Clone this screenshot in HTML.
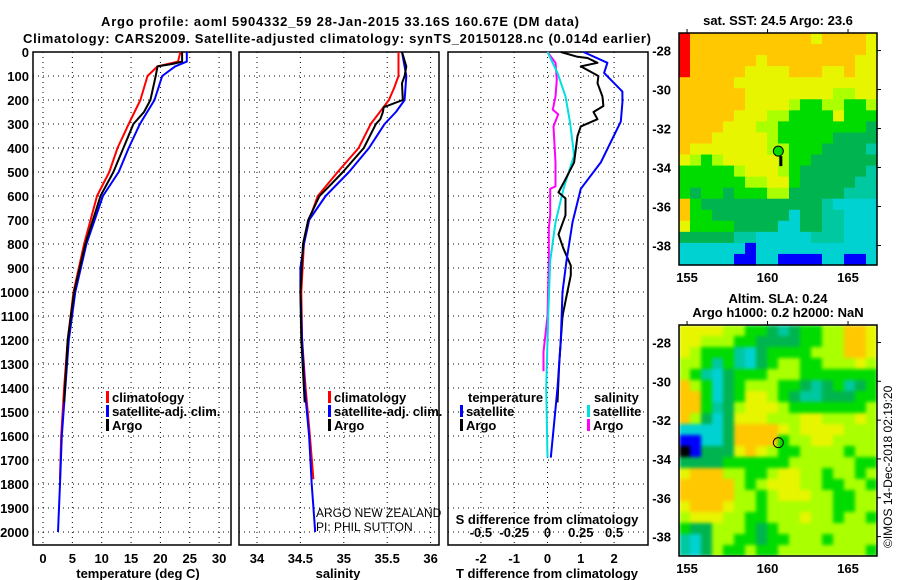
<!DOCTYPE html>
<html><head><meta charset="utf-8"><title>Argo profile</title>
<style>
html,body{margin:0;padding:0;background:#fff;width:900px;height:580px;overflow:hidden}
svg{display:block;font-family:"Liberation Sans",sans-serif}
.b{font-weight:bold;font-size:13px;fill:#000}
.g{stroke:#000;stroke-width:1;stroke-dasharray:1 4}
</style></head><body>
<svg id="s" width="900" height="580" viewBox="0 0 900 580" xmlns="http://www.w3.org/2000/svg">
<defs>
<filter id="soft" x="-5%" y="-5%" width="110%" height="110%" color-interpolation-filters="sRGB"><feGaussianBlur stdDeviation="1.8"/></filter>
<clipPath id="clipSla"><rect x="679" y="325" width="198" height="231"/></clipPath>
</defs>
<text class="b" x="340" y="26" text-anchor="middle" textLength="478">Argo profile: aoml 5904332_59 28-Jan-2015 33.16S 160.67E (DM data)</text>
<text class="b" x="337" y="43" text-anchor="middle" textLength="628">Climatology: CARS2009. Satellite-adjusted climatology: synTS_20150128.nc (0.014d earlier)</text>
<g id="panels"></g>
<g id="maps"></g>
<text x="316" y="517" font-size="12" fill="#000">ARGO NEW ZEALAND</text>
<text x="316" y="531" font-size="12" fill="#000">PI: PHIL SUTTON</text>
<text x="892" y="548" font-size="12" fill="#000" transform="rotate(-90 892 548)">©IMOS 14-Dec-2018 02:19:20</text>
</svg>
<script>
// ---------- profile data ----------
const depthTicks=[0,100,200,300,400,500,600,700,800,900,1000,1100,1200,1300,1400,1500,1600,1700,1800,1900,2000];
const tempTicks=[0,5,10,15,20,25,30];
const salTicks=[34,34.5,35,35.5,36];
const tdiffTicks=[-2,-1,0,1,2];
const sdiffTicks=["-0.5","-0.25","0","0.25","0.5"];

const climTD=[0,40,60,100,200,300,400,500,600,800,1000,1200,1400,1600,1780];
const climT=[23.4,23,19.5,17.8,16.6,14.6,12.7,11.3,9.2,7.0,5.2,4.2,3.6,3.1,2.9];
const satTD=[0,40,60,100,200,300,400,500,600,800,1000,1200,1400,1600,1800,2000];
const satT=[24.5,24.5,22.5,20.3,19,16.5,14.6,12.9,10.2,7.4,5.5,4.4,3.8,3.2,2.9,2.55];
const argoTD=[0,40,50,60,100,200,250,300,400,500,600,800,1000,1200,1460];
const argoT=[23.7,23.7,22,19.5,19.2,18.3,17.2,15.4,13.7,12,9.8,7.2,5.3,4.2,3.6];

const climSD=[0,100,150,200,300,400,500,600,700,800,1000,1200,1400,1600,1780];
const climS=[35.63,35.63,35.58,35.52,35.31,35.17,34.93,34.7,34.6,34.54,34.51,34.52,34.56,34.61,34.65];
const satSD=[0,100,200,250,300,400,500,600,700,800,900,1000,1200,1400,1600,1800,2000];
const satS=[35.67,35.72,35.7,35.6,35.47,35.29,35.06,34.79,34.6,34.54,34.5,34.5,34.52,34.55,34.6,34.63,34.67];
const argoSD=[0,60,100,130,200,230,250,280,300,400,500,560,600,700,800,1000,1200,1460];
const argoS=[35.67,35.72,35.7,35.67,35.68,35.46,35.45,35.42,35.37,35.23,34.99,34.83,34.72,34.59,34.53,34.5,34.51,34.55];

const dTsatD=[0,45,87,165,210,290,460,570,710,870,1000,1200,1400,1690];
const dTsat=[1.08,1.8,1.7,2.25,2.25,2.2,1.6,1.0,0.75,0.57,0.45,0.4,0.3,0.1];
const dTargoD=[0,20,25,45,60,100,130,185,225,250,280,310,350,460,530,585,610,680,760,820,890,930,1100,1300,1460];
const dTargo=[0.4,0.9,1.2,1.5,1.0,1.53,1.5,1.65,1.68,1.38,1.5,1.0,0.9,0.8,0.54,0.33,0.54,0.54,0.33,0.48,0.7,0.7,0.45,0.35,0.3];
const dSsatD=[0,87,185,295,430,570,710,870,1100,1400,1690];
const dSsat=[0,0.075,0.135,0.17,0.2,0.12,0.06,0.02,0.005,-0.01,0];
const dSargoD=[0,45,115,185,240,260,310,460,560,570,680,735,870,1100,1250,1330];
const dSargo=[0,0.06,0.07,0.06,0.04,0.08,0.045,0.06,0.06,0.02,0.02,0.01,0.01,0.0,-0.03,-0.03];

const NS="http://www.w3.org/2000/svg";
function mk(tag,attrs,parent){const e=document.createElementNS(NS,tag);for(const k in attrs)e.setAttribute(k,attrs[k]);parent.appendChild(e);return e;}
const P=document.getElementById('panels');
const Y0=52,Y1=545;
const yD=d=>Y0+d*0.24;

function panel(x0,x1,xf,ticks,tickVal,name){
  const g=mk('g',{},P);
  
  
  depthTicks.forEach(d=>{const l=mk('line',{x1:x0,x2:x1,y1:yD(d),y2:yD(d),class:'g'},g);
    
    });
  ticks.forEach((t,i)=>{const x=xf(tickVal?tickVal[i]:t);const l=mk('line',{x1:x,x2:x,y1:Y0,y2:Y1,class:'g'},g);
    
    });
  const r=mk('rect',{x:x0,y:Y0,width:x1-x0,height:Y1-Y0,fill:'none',stroke:'#000','stroke-width':1.5},g);
  
  
  return g;
}
function series(g,xs,ds,xf,color,w,name){
  let d='';
  for(let i=0;i<xs.length;i++){d+=(i?'L':'M')+xf(xs[i]).toFixed(1)+' '+yD(ds[i]).toFixed(1);}
  const p=mk('path',{d:d,fill:'none',stroke:color,'stroke-width':w,'stroke-linejoin':'round'},g);
  
  
}
function txt(g,x,y,s,anchor,name,size){
  const t=mk('text',{x:x,y:y,class:'b','text-anchor':anchor||'start'},g);
  if(size)t.setAttribute('font-size',size);
  t.textContent=s;
  
  
  return t;
}
function legendItem(g,x,y,color,label){
  const r=mk('rect',{x:x,y:y-11,width:3,height:12,fill:color},g);
  
  
  txt(g,x+6,y,label,'start','legend-entry');
}

// Panel 1 temperature
const xT=t=>43+t*5.87;
const g1=panel(33,231,xT,tempTicks,null,'temperature-panel');
depthTicks.forEach(d=>txt(g1,29,yD(d)+5,String(d),'end','depth-tick-label'));
tempTicks.forEach(t=>txt(g1,xT(t),563,String(t),'middle','temperature-tick-label'));
txt(g1,138,578,'temperature (deg C)','middle','temperature-axis-title');
series(g1,climT,climTD,xT,'#ff0000',2,'climatology-temperature-line');
series(g1,satT,satTD,xT,'#0000ff',2,'satellite-temperature-line');
series(g1,argoT,argoTD,xT,'#000000',2,'argo-temperature-line');
legendItem(g1,106,402,'#ff0000','climatology');
legendItem(g1,106,416,'#0000ff','satellite-adj. clim.');
legendItem(g1,106,430,'#000000','Argo');

// Panel 2 salinity
const xS=s=>257+(s-34)*86.8;
const g2=panel(239,439,xS,salTicks,null,'salinity-panel');
salTicks.forEach(t=>txt(g2,xS(t),563,String(t),'middle','salinity-tick-label'));
txt(g2,338,578,'salinity','middle','salinity-axis-title');
series(g2,climS,climSD,xS,'#ff0000',2,'climatology-salinity-line');
series(g2,satS,satSD,xS,'#0000ff',2,'satellite-salinity-line');
series(g2,argoS,argoSD,xS,'#000000',2,'argo-salinity-line');
legendItem(g2,328,402,'#ff0000','climatology');
legendItem(g2,328,416,'#0000ff','satellite-adj. clim.');
legendItem(g2,328,430,'#000000','Argo');

// Panel 3 differences
const xDT=t=>547.5+t*33.3;
const xDS=s=>547.5+s*133.2;
const g3=panel(448,648,xDT,tdiffTicks,null,'difference-panel');
tdiffTicks.forEach(t=>txt(g3,xDT(t),563,String(t),'middle','t-diff-tick-label'));
txt(g3,547,578,'T difference from climatology','middle','t-diff-axis-title');
sdiffTicks.forEach(t=>txt(g3,xDS(parseFloat(t)),537,t,'middle','s-diff-tick-label'));
txt(g3,547,524,'S difference from climatology','middle','s-diff-axis-title');
series(g3,dSargo,dSargoD,xDS,'#ff00ff',2,'argo-salinity-diff-line');
series(g3,dSsat,dSsatD,xDS,'#00e0e0',2,'satellite-salinity-diff-line');
series(g3,dTargo,dTargoD,xDT,'#000000',2,'argo-temperature-diff-line');
series(g3,dTsat,dTsatD,xDT,'#0000ff',2,'satellite-temperature-diff-line');
txt(g3,468,402,'temperature','start','legend-title-temperature');
legendItem(g3,460,416,'#0000ff','satellite');
legendItem(g3,460,430,'#000000','Argo');
txt(g3,594,402,'salinity','start','legend-title-salinity');
legendItem(g3,587,416,'#00e0e0','satellite');
legendItem(g3,587,430,'#ff00ff','Argo');

// ---------- maps ----------
const colors={R:'#ff0000',O:'#ffc800',Y:'#e8f500',L:'#aaff00',G:'#00dc00',D:'#00b450',T:'#00c8a0',C:'#00d2d2',B:'#0000ff',K:'#000000'};
const lonTicks=[155,160,165];
const latTicks=[-28,-30,-32,-34,-36,-38];
const sstGrid=[
"ROOOOOOOOOOOYOOOOY","ROOOOOOOOOOOOOOOOY","ROOOOOOYOOOOOOOOYY","ROOOOOYYYYOOOYYOYY",
"OOOOOYYYYYYYYYYYYY","OOOOOOYYYYYYYYLLYY","OOOOOOYYYYLGGLLGGL","OOOOOYYYLLGGGGYGGG",
"OOOOYYYLLGGGGGGGGD","OOOYYYYYLGGGGGDDDD","OYYYYYYYLLGGGDDDDT","YLGLYYYYYLGGDDDDDD",
"GGGGGLYYYLGDDDDDDT","GGGGGGLLYYGDDDDDTT","GDGGDGGGLLDDDDDTTT","OGDDDDDDDDDDDTCCCC",
"OGGDDDDDDDCDDTTCCC","YGGGGDDDDCCDDTTCCC","DDDDDTTCCCCCTTTCCC","CCCCCCBCCCCCCCCCCC",
"CCCCCBBCCBBBBCCBBC"];
const slaGrid=[
"YYYYLLGGDTDGGLLOOY","YYLLLGGDDDDGGLLOOY","YLGGGTCDGGGGLLLOOY","LLGTGTCDGLLGGLLLYL",
"LGTCDGGGLLLGGGGGGG","OLGCDGLLLGGDTDGTDG","OOGCDGYYLGDTTDDDGG","OOGTDLYYYLGGGGGGGL",
"OLDCDYYYLLLYYLLLYL","CCCCDOOOOYLYYYYLLL","BBCCDOOOOGLLYYLLLL","KBDDDYOYLGGLLLLGLL",
"DDDDGGGGGGLLLLLLGG","YOOOLLGGLYYLLGLLGL","OOOOOLGLYYYLLGGLLG","OOOOOLLGLYYYLLGGLL",
"YOOOYLLGLLLLLLGGLL","LYYYLLGGLLLYLLGLLG","GDDLLLGDGLLLLLLLLL","TCDLLGGDGGLLLGLLLL",
"TCDLGGLGGLLLLLLLLG"];
const argoLon=160.67, argoLat=-33.16;
const M=document.getElementById('maps');
function drawMap(x0,y0,w,h,grid,name,titles,dotFill,smooth){
  const g=mk('g',{},M);
  
  
  const lonX=l=>x0+(l-154.5)/(166.8-154.5)*w;
  const latY=l=>y0+(-27.1-l)/(39-27.1)*h;
  const rows=grid.length, cols=grid[0].length, cw=w/cols, ch=h/rows;
  const outer=mk('g',smooth?{'clip-path':'url(#clipSla)'}:{},g);
  
  
  const cells=mk('g',smooth?{filter:'url(#soft)'}:{},outer);
  for(let r=0;r<rows;r++)for(let c=0;c<cols;c++){
    const e=mk('rect',{x:(x0+c*cw).toFixed(2),y:(y0+r*ch).toFixed(2),width:(cw+0.6).toFixed(2),height:(ch+0.6).toFixed(2),fill:colors[grid[r][c]]},cells);
    
    
  }
  const f=mk('rect',{x:x0,y:y0,width:w,height:h,fill:'none',stroke:'#000','stroke-width':1.5},g);
  
  
  lonTicks.forEach(l=>{const x=lonX(l);
    const t=mk('line',{x1:x,x2:x,y1:y0-4,y2:y0,stroke:'#000'},g);
    
    
    txt(g,x,y0+h+17,String(l),'middle','lon-tick-label');});
  latTicks.forEach(l=>{const y=latY(l);
    const t=mk('line',{x1:x0+w,x2:x0+w+4,y1:y,y2:y,stroke:'#000'},g);
    
    
    txt(g,x0-8,y+5,String(l),'end','lat-tick-label');});
  titles.forEach((s,i)=>txt(g,x0+w/2,y0-8-(titles.length-1-i)*14,s,'middle','map-title',12));
  const cx=lonX(argoLon), cy=latY(argoLat);
  if(dotFill!=='none'){const s=mk('rect',{x:cx+1,y:cy+5,width:3,height:10,fill:'#000'},g);
    
    }
  const c=mk('circle',{cx:cx,cy:cy,r:5,fill:dotFill,stroke:'#000','stroke-width':1},g);
  
  
}
drawMap(679,33,198,232,sstGrid,'sst-map',['sat. SST: 24.5 Argo: 23.6'],'#00dc00',false);
drawMap(679,325,198,231,slaGrid,'sla-map',['Altim. SLA: 0.24','Argo h1000: 0.2 h2000: NaN'],'none',true);
</script>
</body></html>
